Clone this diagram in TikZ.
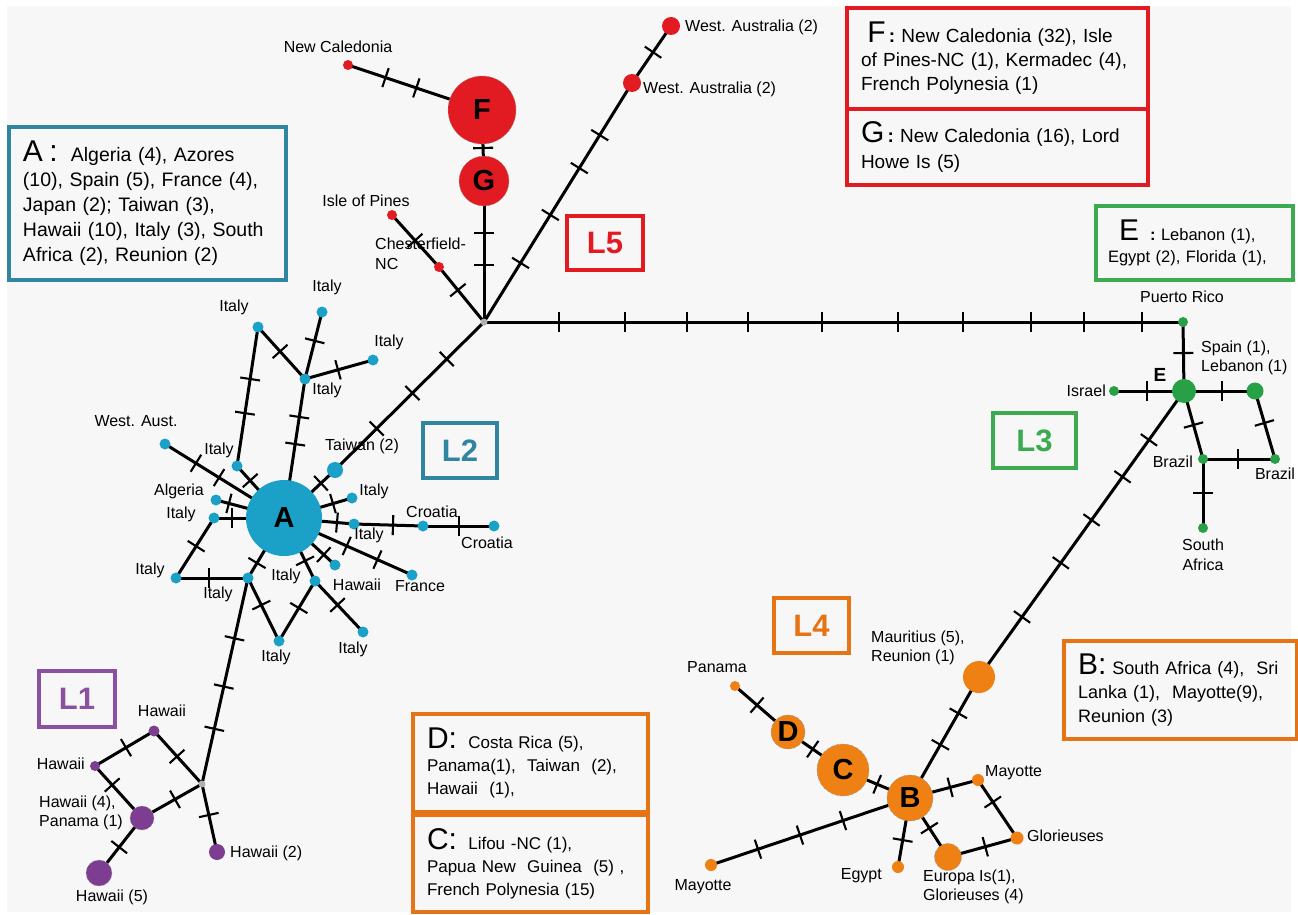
\documentclass[tikz,border=0pt]{standalone}
\usepackage{fontspec}
\setmainfont{Liberation Sans}
\usetikzlibrary{decorations.markings}
\pgfdeclarelayer{back}
\pgfdeclarelayer{edges}
\pgfsetlayers{back,edges,main}
\definecolor{cRed}{RGB}{226,26,34}
\definecolor{cBlue}{RGB}{27,160,200}
\definecolor{cTeal}{RGB}{48,134,160}
\definecolor{cPurple}{RGB}{125,62,145}
\definecolor{cPurpleB}{RGB}{140,80,160}
\definecolor{cGreen}{RGB}{40,160,70}
\definecolor{cGreenB}{RGB}{60,170,80}
\definecolor{cOrange}{RGB}{238,128,20}
\definecolor{cOrangeB}{RGB}{230,115,20}
\definecolor{cGray}{RGB}{175,175,175}
\definecolor{bgc}{RGB}{247,247,247}
\newcommand{\BL}[1]{{\fontsize{30}{30}\selectfont #1}}
\tikzset{
 lnk/.style={line width=3pt, black},
 tk/.style={postaction={decorate, decoration={markings, mark=at position #1 with {\draw[line width=2.1pt,black] (0pt,-10pt) -- (0pt,10pt);}}}},
 hap/.style={circle, inner sep=0pt, fill=#1},
 bigout/.style={draw=black!40, densely dashed, line width=0.4pt},
 lbl/.style={inner sep=0pt, font=\fontsize{16}{19.5}\selectfont},
 ltr/.style={font=\fontsize{29}{29}\selectfont\bfseries},
 infobox/.style={draw=#1, line width=3.4pt, inner xsep=14pt, inner ysep=3pt, align=left},
 lbox/.style={draw=#1, text=#1, line width=3.4pt, font=\fontsize{31}{31}\selectfont\bfseries, inner sep=0pt},
}
\begin{document}
\begin{tikzpicture}[x=1pt,y=-1pt]
\useasboundingbox (0,0) rectangle (1298,915);
\begin{pgfonlayer}{back}
\fill[white] (0,0) rectangle (1298,915);
\fill[bgc] (7,6) rectangle (1291,912);
\end{pgfonlayer}

% ---------- L5 ----------
\node[hap=cRed, minimum size=10] (nc) at (348,65) {};
\node[hap=cRed, bigout, minimum size=68, ltr] (F) at (482,110) {F};
\node[hap=cRed, bigout, minimum size=50, ltr] (G) at (484,181) {G};
\node[hap=cGray, minimum size=7] (j5) at (484,322) {};
\node[hap=cRed, minimum size=10] (iop) at (392,215) {};
\node[hap=cRed, minimum size=10] (chf) at (439,267) {};
\node[hap=cRed, minimum size=18] (wa1) at (671,26) {};
\node[hap=cRed, minimum size=18] (wa2) at (632,83) {};
\node[hap=cGreen, minimum size=10] (pr) at (1183,322) {};

\node[lbl] (lnc) at (338,47) {New Caledonia};
\node[lbl] (liop) at (366,201) {Isle of Pines};
\node[lbl, align=left, anchor=west] (lchf) at (375,254) {Chesterfield-\\NC};
\node[lbl, anchor=west] (lwa1) at (685,27) {West. Australia (2)};
\node[lbl, anchor=west] (lwa2) at (643,89) {West. Australia (2)};
\node[lbl] (lpr) at (1182,297) {Puerto Rico};

\begin{pgfonlayer}{edges}
\draw[lnk, tk=0.28, tk=0.51] (nc.center) -- (F.center);
\draw[lnk, tk=0.535] (F.center) -- (G.center);
\draw[lnk, tk=0.369, tk=0.596] (G.center) -- (j5.center);
\draw[lnk, tk=0.49] (iop.center) -- (chf.center);
\draw[lnk, tk=0.42] (chf.center) -- (j5.center);
\draw[lnk, tk=0.247, tk=0.448, tk=0.644, tk=0.782] (j5.center) -- (wa2.center);
\draw[lnk, tk=0.54] (wa2.center) -- (wa1.center);
\draw[lnk, tk=0.107, tk=0.202, tk=0.290, tk=0.378, tk=0.484, tk=0.592, tk=0.685, tk=0.783, tk=0.858, tk=0.941] (j5.center) -- (pr.center);
\end{pgfonlayer}

% ---------- L3 ----------
\node[hap=cGreen, minimum size=24] (E) at (1184,391) {};
\node[inner sep=0pt, font=\fontsize{19}{19}\selectfont\bfseries] (lE) at (1160,375) {E};
\node[hap=cGreen, minimum size=10] (isr) at (1114,391) {};
\node[lbl, anchor=east] (lisr) at (1106,391) {Israel};
\node[hap=cGreen, minimum size=17] (sl) at (1255,391) {};
\node[lbl, align=left, anchor=west] (lsl) at (1201,358) {Spain (1),\\Lebanon (1)};
\node[hap=cGreen, minimum size=10] (br1) at (1203,459) {};
\node[lbl, anchor=east] (lbr1) at (1193,462) {Brazil};
\node[hap=cGreen, minimum size=10] (br2) at (1275,459) {};
\node[lbl] (lbr2) at (1275,474) {Brazil};
\node[hap=cGreen, minimum size=10] (sa) at (1203,528) {};
\node[lbl, align=center] (lsa) at (1203,555) {South\\Africa};

% ---------- L4 ----------
\node[hap=cOrange, minimum size=32] (mau) at (979,677) {};
\node[lbl, align=left, anchor=west] (lmau) at (871,648) {Mauritius (5),\\Reunion (1)};
\node[hap=cOrange, bigout, minimum size=46, ltr] (B) at (910,798) {B};
\node[hap=cOrange, bigout, minimum size=52, ltr] (C) at (843,770) {C};
\node[hap=cOrange, bigout, minimum size=34, ltr] (D) at (788,732) {D};
\node[hap=cOrange, minimum size=10] (pan) at (735,686) {};
\node[lbl] (lpan) at (717,667) {Panama};
\node[hap=cOrange, minimum size=12] (may1) at (978,780) {};
\node[lbl, anchor=west] (lmay1) at (985,773) {Mayotte};
\node[hap=cOrange, minimum size=13] (glo) at (1017,838) {};
\node[lbl, anchor=west] (lglo) at (1027,836) {Glorieuses};
\node[hap=cOrange, bigout, minimum size=27] (eur) at (948,857) {};
\node[lbl, align=left, anchor=west] (leur) at (923,887) {Europa Is(1),\\Glorieuses (4)};
\node[hap=cOrange, minimum size=12] (egy) at (898,867) {};
\node[lbl, anchor=east] (legy) at (882,876) {Egypt};
\node[hap=cOrange, minimum size=12] (may2) at (711,865) {};
\node[lbl] (lmay2) at (703,887) {Mayotte};

\begin{pgfonlayer}{edges}
\draw[lnk, tk=0.45] (pr.center) -- (E.center);
\draw[lnk, tk=0.47] (isr.center) -- (E.center);
\draw[lnk, tk=0.535] (E.center) -- (sl.center);
\draw[lnk, tk=0.5] (E.center) -- (br1.center);
\draw[lnk, tk=0.486] (br1.center) -- (br2.center);
\draw[lnk, tk=0.47] (sl.center) -- (br2.center);
\draw[lnk, tk=0.49] (br1.center) -- (sa.center);
\draw[lnk, tk=0.171, tk=0.30, tk=0.451, tk=0.601, tk=0.79] (E.center) -- (mau.center);
\draw[lnk, tk=0.30, tk=0.56] (mau.center) -- (B.center);
\draw[lnk, tk=0.415] (pan.center) -- (D.center);
\draw[lnk, tk=0.45] (D.center) -- (C.center);
\draw[lnk, tk=0.51] (C.center) -- (B.center);
\draw[lnk, tk=0.59] (B.center) -- (may1.center);
\draw[lnk, tk=0.38] (may1.center) -- (glo.center);
\draw[lnk, tk=0.51] (B.center) -- (eur.center);
\draw[lnk, tk=0.54] (eur.center) -- (glo.center);
\draw[lnk, tk=0.61] (B.center) -- (egy.center);
\draw[lnk, tk=0.337, tk=0.553, tk=0.764] (B.center) -- (may2.center);
\end{pgfonlayer}

% ---------- L2 ----------
\node[hap=cBlue, minimum size=76, ltr] (A) at (284,518) {A};
\node[hap=cBlue, minimum size=16] (tw) at (335,470) {};
\node[hap=cBlue, minimum size=11] (wau) at (165,444) {};
\node[hap=cBlue, minimum size=11] (it1) at (237,466) {};
\node[hap=cBlue, minimum size=11] (it2) at (258,327) {};
\node[hap=cBlue, minimum size=11] (it3) at (322,312) {};
\node[hap=cBlue, minimum size=11] (it4) at (305,379) {};
\node[hap=cBlue, minimum size=11] (it5) at (373,360) {};
\node[hap=cBlue, minimum size=11] (alg) at (216,500) {};
\node[hap=cBlue, minimum size=11] (it6) at (214,518) {};
\node[hap=cBlue, minimum size=11] (it7) at (176,578) {};
\node[hap=cBlue, minimum size=11] (it8) at (248,578) {};
\node[hap=cBlue, minimum size=11] (it9) at (279,641) {};
\node[hap=cBlue, minimum size=11] (it10) at (315,581) {};
\node[hap=cBlue, minimum size=11] (it11) at (363,632) {};
\node[hap=cBlue, minimum size=11] (haw) at (335,565) {};
\node[hap=cBlue, minimum size=11] (fr) at (412,575) {};
\node[hap=cBlue, minimum size=11] (it12) at (352,498) {};
\node[hap=cBlue, minimum size=11] (it13) at (354,524) {};
\node[hap=cBlue, minimum size=11] (cr1) at (423,526) {};
\node[hap=cBlue, minimum size=11] (cr2) at (494,526) {};

\node[lbl] (ltw) at (362,446) {Taiwan (2)};
\node[lbl] (lwau) at (136,421) {West. Aust.};
\node[lbl] (lit1) at (219,450) {Italy};
\node[lbl] (lit2) at (234,307) {Italy};
\node[lbl] (lit3) at (327,287) {Italy};
\node[lbl] (lit4) at (327,390) {Italy};
\node[lbl] (lit5) at (389,342) {Italy};
\node[lbl] (lalg) at (179,491) {Algeria};
\node[lbl] (lit6) at (181,514) {Italy};
\node[lbl] (lit7) at (150,570) {Italy};
\node[lbl] (lit8) at (218,594) {Italy};
\node[lbl] (lit9) at (276,657) {Italy};
\node[lbl] (lit10) at (286,576) {Italy};
\node[lbl] (lit11) at (353,649) {Italy};
\node[lbl] (lhaw) at (357,585) {Hawaii};
\node[lbl] (lfr) at (420,586) {France};
\node[lbl] (lit12) at (374,491) {Italy};
\node[lbl] (lit13) at (369,535) {Italy};
\node[lbl] (lcr1) at (432,512) {Croatia};
\node[lbl] (lcr2) at (487,543) {Croatia};

% ---------- L1 ----------
\node[hap=cGray, minimum size=7] (j1) at (202,784) {};
\node[hap=cPurple, minimum size=11] (h1) at (154,731) {};
\node[hap=cPurple, minimum size=10] (h2) at (95,766) {};
\node[hap=cPurple, bigout, minimum size=24] (h4) at (142,818) {};
\node[hap=cPurple, bigout, minimum size=26] (h5) at (99,873) {};
\node[hap=cPurple, minimum size=16] (hh2) at (217,852) {};
\node[lbl] (lh1) at (162,711) {Hawaii};
\node[lbl, anchor=east] (lh2) at (85,764) {Hawaii};
\node[lbl, align=left, anchor=west] (lh4) at (39,813) {Hawaii (4),\\Panama (1)};
\node[lbl] (lh5) at (112,897) {Hawaii (5)};
\node[lbl, anchor=west] (lhh2) at (230,853) {Hawaii (2)};

\begin{pgfonlayer}{edges}
\draw[lnk, tk=0.725] (A.center) -- (tw.center);
\draw[lnk, tk=0.28, tk=0.52, tk=0.75] (tw.center) -- (j5.center);
\draw[lnk, tk=0.546, tk=0.74] (A.center) -- (wau.center);
\draw[lnk, tk=0.72] (A.center) -- (it1.center);
\draw[lnk, tk=0.38, tk=0.626] (it1.center) -- (it2.center);
\draw[lnk, tk=0.47] (it2.center) -- (it4.center);
\draw[lnk, tk=0.43] (it3.center) -- (it4.center);
\draw[lnk, tk=0.485] (it4.center) -- (it5.center);
\draw[lnk, tk=0.273, tk=0.468] (it4.center) -- (A.center);
\draw[lnk, tk=0.81] (A.center) -- (alg.center);
\draw[lnk, tk=0.74] (A.center) -- (it6.center);
\draw[lnk, tk=0.47] (it6.center) -- (it7.center);
\draw[lnk, tk=0.46] (it7.center) -- (it8.center);
\draw[lnk, tk=0.75] (A.center) -- (it8.center);
\draw[lnk, tk=0.43] (it8.center) -- (it9.center);
\draw[lnk, tk=0.45] (it10.center) -- (it9.center);
\draw[lnk, tk=0.68] (A.center) -- (it10.center);
\draw[lnk, tk=0.47] (it10.center) -- (it11.center);
\draw[lnk, tk=0.78] (A.center) -- (haw.center);
\draw[lnk, tk=0.49, tk=0.73] (A.center) -- (fr.center);
\draw[lnk, tk=0.72] (A.center) -- (it12.center);
\draw[lnk, tk=0.757] (A.center) -- (it13.center);
\draw[lnk, tk=0.565] (it13.center) -- (cr1.center);
\draw[lnk, tk=0.507] (cr1.center) -- (cr2.center);
\draw[lnk, tk=0.293, tk=0.527, tk=0.732] (it8.center) -- (j1.center);
\draw[lnk, tk=0.52] (j1.center) -- (h1.center);
\draw[lnk, tk=0.475] (h1.center) -- (h2.center);
\draw[lnk, tk=0.365] (h2.center) -- (h4.center);
\draw[lnk, tk=0.45] (j1.center) -- (h4.center);
\draw[lnk, tk=0.53] (h4.center) -- (h5.center);
\draw[lnk, tk=0.456] (j1.center) -- (hh2.center);
\end{pgfonlayer}

% ---------- lineage boxes ----------
\node[lbox=cRed, minimum width=76, minimum height=54] (L5) at (605,243) {L5};
\node[lbox=cTeal, minimum width=74, minimum height=55] (L2) at (460,450.5) {L2};
\node[lbox=cGreenB, minimum width=83, minimum height=55] (L3) at (1034.5,440.5) {L3};
\node[lbox=cOrangeB, minimum width=75, minimum height=55] (L4) at (811.5,625.5) {L4};
\node[lbox=cPurpleB, minimum width=76, minimum height=56] (L1) at (77,699) {L1};

% ---------- info boxes ----------
\node[infobox=cTeal, minimum width=277, minimum height=153, text width=249, font=\fontsize{19.5}{25}\selectfont] (boxA) at (147.5,203.5)
 {\BL{A}\ \BL{:}\ \ Algeria (4), Azores\\(10), Spain (5), France (4),\\Japan (2); Taiwan (3),\\Hawaii (10), Italy (3), South\\Africa (2), Reunion (2)};
\node[infobox=cRed, minimum width=301, minimum height=101, text width=273, font=\fontsize{19}{24}\selectfont] (boxF) at (997.5,58.5)
 {\ \BL{F}\,\textbf{:} New Caledonia (32), Isle\\of Pines-NC (1), Kermadec (4),\\French Polynesia (1)};
\node[infobox=cRed, minimum width=301, minimum height=76, text width=273, font=\fontsize{19}{26}\selectfont] (boxG) at (997.5,147)
 {\BL{G}\,\textbf{:} New Caledonia (16), Lord\\Howe Is (5)};
\node[infobox=cGreenB, inner xsep=12pt, minimum width=197, minimum height=74, text width=173, font=\fontsize{16.5}{22}\selectfont] (boxE) at (1194.5,243)
 {\ \ \BL{E}\ \ \textbf{:}\ Lebanon (1),\\Egypt (2), Florida (1),};
\node[infobox=cOrangeB, minimum width=235, minimum height=98, text width=207, font=\fontsize{17}{23}\selectfont] (boxD) at (530.5,763)
 {\BL{D:}\ \ Costa Rica (5),\\Panama(1),\ \ Taiwan\ \ (2),\\Hawaii\ \ (1),};
\node[infobox=cOrangeB, minimum width=235, minimum height=97, text width=207, font=\fontsize{17}{23}\selectfont] (boxC) at (530.5,863.5)
 {\BL{C:}\ \ Lifou -NC (1),\\Papua New\ \ Guinea\ \ (5) ,\\French Polynesia (15)};
\node[infobox=cOrangeB, minimum width=233, minimum height=98, text width=205, font=\fontsize{18}{24}\selectfont] (boxB) at (1180.5,690)
 {\BL{B:}\ South Africa (4),\ \ Sri\\Lanka (1),\ \ Mayotte(9),\\Reunion (3)};
\end{tikzpicture}
\end{document}
